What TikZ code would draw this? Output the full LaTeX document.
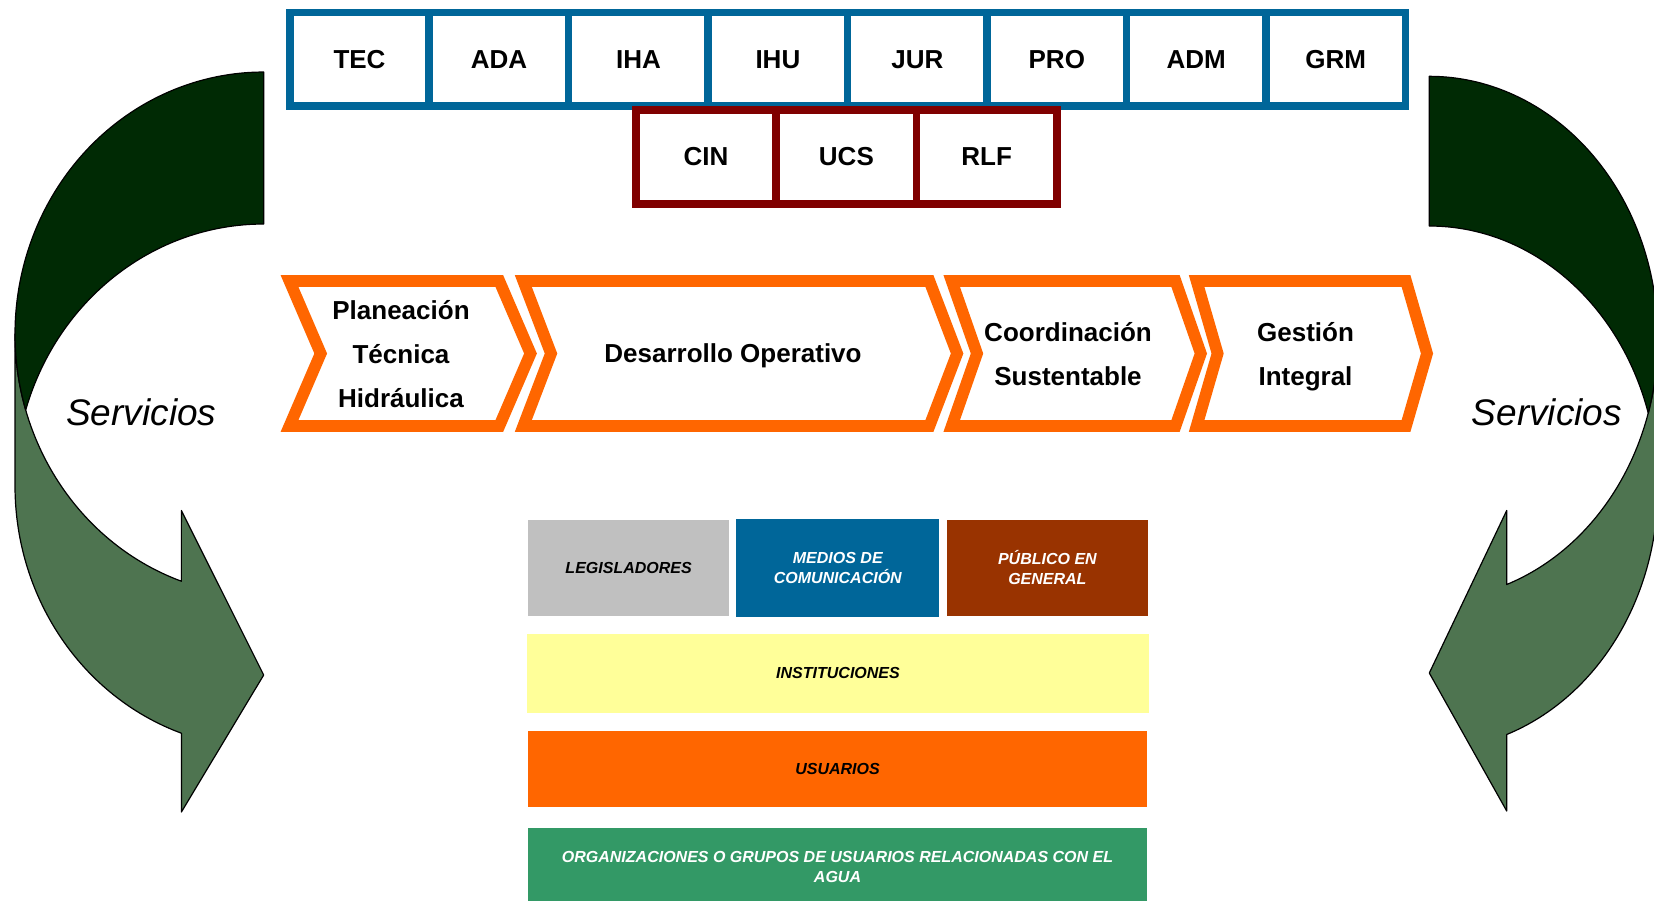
\documentclass[tikz,border=0pt]{standalone}
\usepackage{fontspec}
\setmainfont{Liberation Sans}
\definecolor{cnaBlue}{RGB}{0,102,153}
\definecolor{cnaRed}{RGB}{128,0,0}
\definecolor{cnaOrange}{RGB}{255,102,0}
\definecolor{legGray}{RGB}{192,192,192}
\definecolor{pubBrown}{RGB}{153,51,0}
\definecolor{instYellow}{RGB}{255,255,153}
\definecolor{orgGreen}{RGB}{51,153,102}
\definecolor{svDark}{RGB}{0,42,4}
\definecolor{svLight}{RGB}{78,116,80}

\begin{document}
\begin{tikzpicture}[x=1pt,y=-1pt,
  topbox/.style={draw=cnaBlue, line width=7.5pt, minimum width=139.46pt,
    minimum height=93.3pt, inner sep=0pt, font=\fontsize{26}{30}\selectfont\bfseries},
  subbox/.style={topbox, draw=cnaRed, line width=7.7pt, minimum width=140.3pt,
    minimum height=93.5pt},
  chev/.style={draw=cnaOrange, line width=11.7pt, line join=miter, fill=white},
  stage/.style={align=center, inner sep=0pt, text depth=0pt,
    font=\fontsize{26}{44}\selectfont\bfseries},
  actor/.style={inner sep=0pt, align=center, text=black,
    font=\fontsize{16}{20}\selectfont\bfseries\itshape},
  arrowfront/.style={fill=svLight, draw=black, line width=1.2pt, line join=round},
  arrowback/.style={arrowfront, fill=svDark},
  serv/.style={inner sep=0pt, font=\fontsize{37}{40}\selectfont\itshape}]

  \fill[white] (0,0) rectangle (1654,900);
  \useasboundingbox (0,0) rectangle (1654,900);

  % curved arrow, left side
  \draw[arrowfront] (15,334)
    arc[start angle=180, end angle=109.33, x radius=248.7, y radius=262]
    -- (181.4,510.5) -- (263.7,675) -- (181.4,812) -- (181.4,733.2)
    arc[start angle=109.33, end angle=180, x radius=248.7, y radius=262] -- cycle;
  \draw[arrowback] (263.7,224)
    arc[start angle=270, end angle=196.86, x radius=248.7, y radius=262]
    arc[start angle=163.14, end angle=270, x radius=248.7, y radius=262] -- cycle;

  % curved arrow, right side
  \draw[arrowfront] (1657.8,338)
    arc[start angle=0, end angle=70.2, x radius=228.5, y radius=262]
    -- (1506.7,510.5) -- (1429.3,673) -- (1506.7,811) -- (1506.7,734.5)
    arc[start angle=70.2, end angle=0, x radius=228.5, y radius=262] -- cycle;
  \draw[arrowback] (1429.3,226)
    arc[start angle=-90, end angle=-16.6, x radius=228.5, y radius=262]
    arc[start angle=16.6, end angle=-90, x radius=228.5, y radius=262] -- cycle;

  \node[serv] (servL) at (141.3,412) {Servicios};
  \node[serv] (servR) at (1546.8,412) {Servicios};

  % top row of areas
  \foreach \lbl [count=\i from 0] in {TEC,ADA,IHA,IHU,JUR,PRO,ADM,GRM}
    \node[topbox] (\lbl) at ({359.5+139.46*\i},59.2) {\lbl};
  \foreach \lbl [count=\i from 0] in {CIN,UCS,RLF}
    \node[subbox] (\lbl) at ({706.1+140.3*\i},157) {\lbl};

  % process chevrons
  \foreach \l/\r/\d in {289.5/499.3/31.2, 523.3/929.4/27.7,
                         951.7/1175.5/25.3, 1196.6/1406/21}
    \draw[chev] (\l,281) -- (\r,281) -- ({\r+\d},353.5) -- (\r,426)
      -- (\l,426) -- ({\l+\d},353.5) -- cycle;
  \node[stage] (plan) at (401,354) {Planeación\\Técnica\\Hidráulica};
  \node[stage] (desa) at (733,353.5) {Desarrollo Operativo};
  \node[stage] (coord) at (1068,353.8) {Coordinación\\Sustentable};
  \node[stage] (gest) at (1305.5,353.8) {Gestión\\Integral};

  % actors
  \node[actor, fill=legGray, minimum width=200.8pt, minimum height=96pt]
    (legis) at (628.6,568) {LEGISLADORES};
  \node[actor, fill=cnaBlue, text=white, minimum width=203.3pt, minimum height=97.7pt]
    (medios) at (837.8,567.9) {MEDIOS DE\\COMUNICACIÓN};
  \node[actor, fill=pubBrown, text=white, minimum width=200.8pt, minimum height=96pt]
    (publico) at (1047.4,568) {PÚBLICO EN\\GENERAL};
  \node[actor, fill=instYellow, minimum width=621.3pt, minimum height=78.7pt]
    (inst) at (838,673.3) {INSTITUCIONES};
  \node[actor, fill=cnaOrange, minimum width=619pt, minimum height=76.6pt]
    (usuarios) at (837.5,769) {USUARIOS};
  \node[actor, fill=orgGreen, text=white, minimum width=619pt, minimum height=77pt]
    (org) at (837.5,866.5) {ORGANIZACIONES O GRUPOS DE USUARIOS RELACIONADAS CON EL\\AGUA};
\end{tikzpicture}
\end{document}
